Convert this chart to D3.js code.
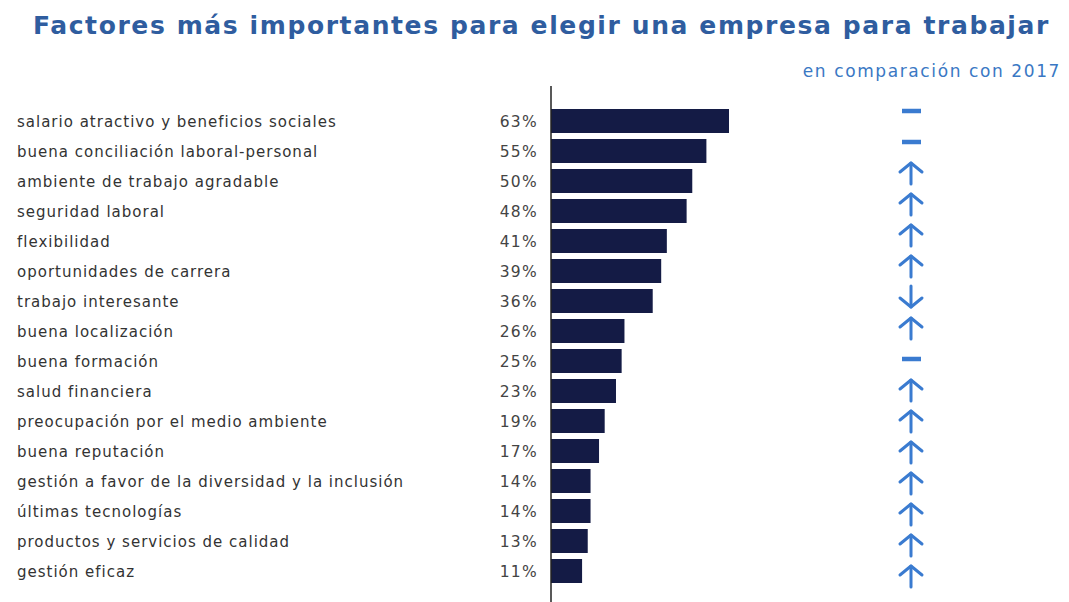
<!DOCTYPE html>
<html><head><meta charset="utf-8">
<script src="https://cdn.jsdelivr.net/npm/d3@7"></script>
<style>body{margin:0;background:#fff}svg{display:block}</style>
</head><body>
<svg id="c" width="1069" height="602"></svg>
<script>
const categories = ["salario atractivo y beneficios sociales","buena conciliación laboral-personal","ambiente de trabajo agradable","seguridad laboral","flexibilidad","oportunidades de carrera","trabajo interesante","buena localización","buena formación","salud financiera","preocupación por el medio ambiente","buena reputación","gestión a favor de la diversidad y la inclusión","últimas tecnologías","productos y servicios de calidad","gestión eficaz"];
const values = [63,55,50,48,41,39,36,26,25,23,19,17,14,14,13,11];
const trends = ["same","same","up","up","up","up","down","up","same","up","up","up","up","up","up","up"];
const title = "Factores más importantes para elegir una empresa para trabajar";
const subtitle = "en comparación con 2017";

const svg = d3.select("#c");
const x = d3.scaleLinear().domain([0,63]).range([551,729]);
const y = d3.scaleBand().domain(categories).range([106,586]).paddingInner(0.2).paddingOuter(0.1);
const yArrow = d3.scalePoint().domain(categories).range([111,576]);

svg.append("text").attr("x",33).attr("y",34).attr("font-family","DejaVu Sans").attr("font-weight","bold")
  .attr("font-size",25).attr("letter-spacing",1.6).attr("fill","#2f5d9f").text(title);
svg.append("text").attr("x",1061).attr("y",77).attr("text-anchor","end").attr("font-family","DejaVu Sans")
  .attr("font-size",17).attr("letter-spacing",1.6).attr("fill","#3a78c4").text(subtitle);

svg.append("g").selectAll("rect").data(values).join("rect")
  .attr("x",x(0)).attr("y",(d,i)=>y(categories[i])).attr("width",d=>x(d)-x(0)).attr("height",y.bandwidth())
  .attr("fill","#141b45");

svg.append("line").attr("x1",x(0)).attr("x2",x(0)).attr("y1",86).attr("y2",602).attr("stroke","#222").attr("stroke-width",1.5);

svg.append("g").selectAll("text").data(categories).join("text")
  .attr("x",17).attr("y",d=>y(d)+y.bandwidth()/2+1).attr("dy","0.35em")
  .attr("font-family","DejaVu Sans").attr("font-size",15).attr("letter-spacing",1).attr("fill","#333").text(d=>d);

svg.append("g").selectAll("text").data(values).join("text")
  .attr("x",538).attr("y",(d,i)=>y(categories[i])+y.bandwidth()/2+1).attr("dy","0.35em").attr("text-anchor","end")
  .attr("font-family","DejaVu Sans").attr("font-size",15.5).attr("letter-spacing",1.3).attr("fill","#444").text(d=>d+"%");

const ax = 911, col = "#3a7bd0";
const g = svg.append("g").attr("stroke",col).attr("fill","none").attr("stroke-linecap","round").attr("stroke-linejoin","round");
trends.forEach((t,i)=>{
  const cy = yArrow(categories[i]);
  if(t==="same"){
    g.append("line").attr("x1",ax-9).attr("x2",ax+10).attr("y1",cy).attr("y2",cy).attr("stroke-width",4.5).attr("stroke-linecap","butt");
  } else {
    const s = t==="up"?1:-1;
    g.append("line").attr("x1",ax).attr("x2",ax).attr("y1",cy-10*s).attr("y2",cy+11*s).attr("stroke-width",3);
    g.append("polyline").attr("points",[[ax-11,cy-1*s],[ax,cy-10*s],[ax+11,cy-1*s]].map(p=>p.join(",")).join(" ")).attr("stroke-width",3);
  }
});
</script>
</body></html>
